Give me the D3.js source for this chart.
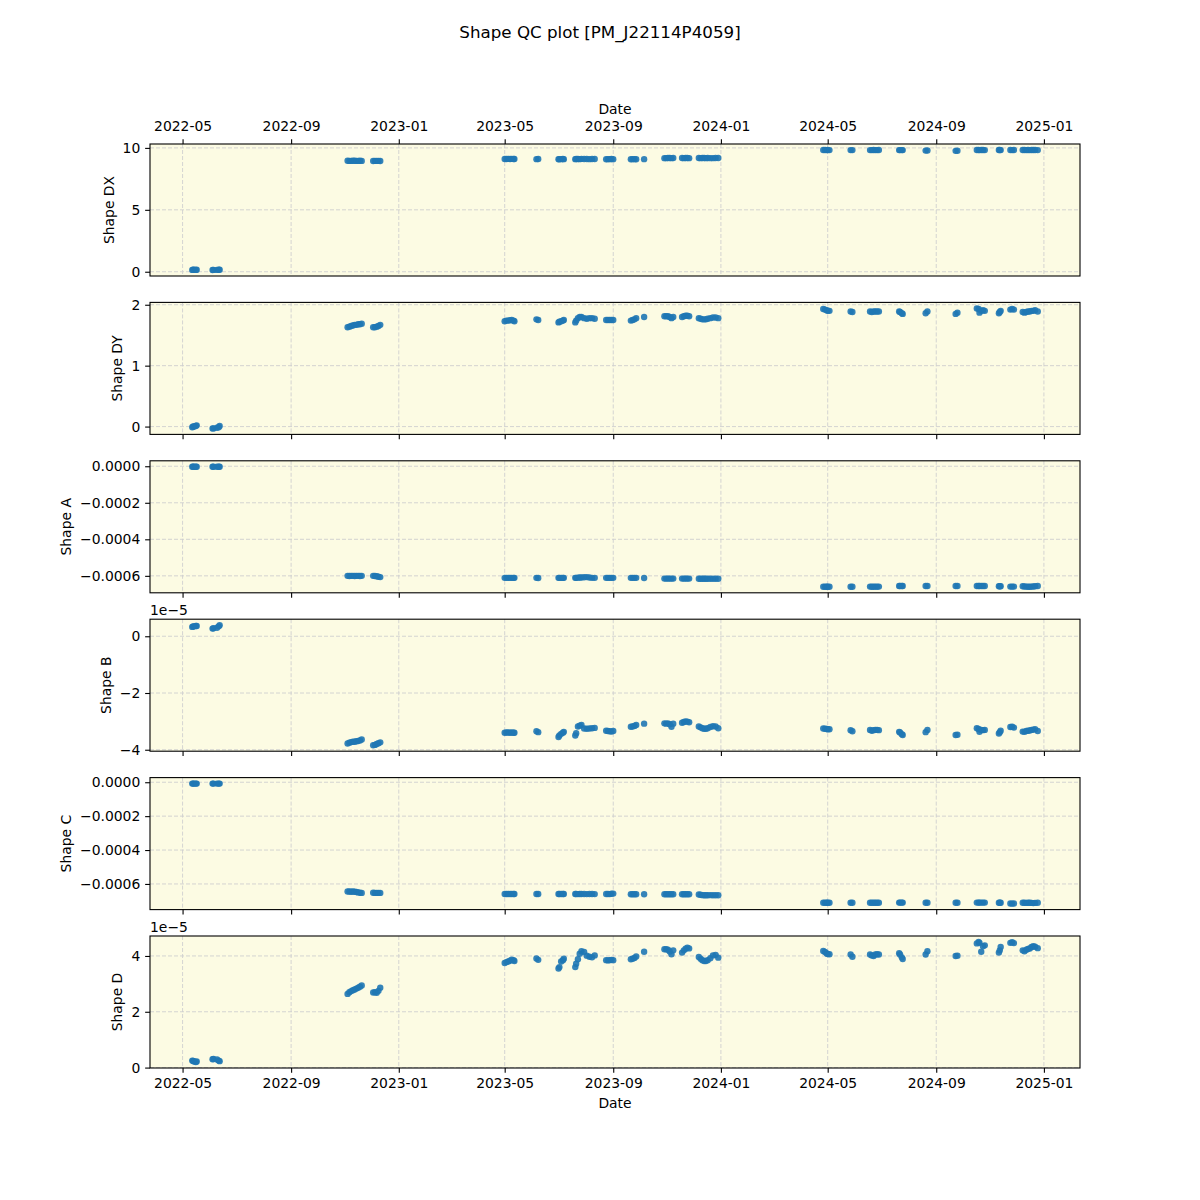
<!DOCTYPE html>
<html>
<head>
<meta charset="utf-8">
<script src="https://cdn.jsdelivr.net/npm/d3@7"></script>
<style>
body { margin: 0; background: #fff; }
text { font-family: "DejaVu Sans", sans-serif; }
</style>
</head>
<body>
<div id="chart"></div>
<script>
// Observation dates (grouped by observing run)
var dates = [
    "2022-05-12", "2022-05-13", "2022-05-14", "2022-05-16", "2022-05-17",
    "2022-06-04", "2022-06-05", "2022-06-09", "2022-06-11", "2022-06-12",
    "2022-11-04", "2022-11-06", "2022-11-08", "2022-11-10", "2022-11-12", "2022-11-14", "2022-11-16", "2022-11-18", "2022-11-20",
    "2022-12-03", "2022-12-05", "2022-12-07", "2022-12-09", "2022-12-11",
    "2023-05-01", "2023-05-03", "2023-05-05", "2023-05-07", "2023-05-09", "2023-05-11", "2023-05-12",
    "2023-06-06", "2023-06-08",
    "2023-07-01", "2023-07-02", "2023-07-04", "2023-07-06", "2023-07-07",
    "2023-07-20", "2023-07-21", "2023-07-23", "2023-07-25", "2023-07-27", "2023-07-30", "2023-08-02", "2023-08-05", "2023-08-08", "2023-08-11",
    "2023-08-24", "2023-08-26", "2023-08-28", "2023-08-30", "2023-09-01",
    "2023-09-21", "2023-09-23", "2023-09-25", "2023-09-27",
    "2023-10-06",
    "2023-10-29", "2023-10-31", "2023-11-02", "2023-11-04", "2023-11-06", "2023-11-08",
    "2023-11-18", "2023-11-20", "2023-11-22", "2023-11-24", "2023-11-26",
    "2023-12-07", "2023-12-09", "2023-12-11", "2023-12-13", "2023-12-15", "2023-12-17", "2023-12-20", "2023-12-23", "2023-12-26", "2023-12-29",
    "2024-04-26", "2024-04-28", "2024-04-30", "2024-05-01", "2024-05-03",
    "2024-05-27", "2024-05-29",
    "2024-06-18", "2024-06-20", "2024-06-22", "2024-06-24", "2024-06-26", "2024-06-28",
    "2024-07-21", "2024-07-22", "2024-07-24", "2024-07-25",
    "2024-08-20", "2024-08-22",
    "2024-09-23", "2024-09-25",
    "2024-10-17", "2024-10-19", "2024-10-20", "2024-10-22", "2024-10-24", "2024-10-26",
    "2024-11-11", "2024-11-12", "2024-11-13",
    "2024-11-24", "2024-11-26", "2024-11-28",
    "2024-12-08", "2024-12-10", "2024-12-12", "2024-12-14", "2024-12-16", "2024-12-18", "2024-12-20", "2024-12-22", "2024-12-25"
];

var shapeDX = [
    0.15, 0.16, 0.16, 0.15, 0.16,
    0.14, 0.15, 0.15, 0.16, 0.16,
    8.96, 8.95, 8.95, 8.96, 8.96, 8.95, 8.95, 8.96, 8.95,
    8.94, 8.95, 8.95, 8.95, 8.94,
    9.10, 9.10, 9.11, 9.10, 9.11, 9.10, 9.10,
    9.09, 9.10,
    9.08, 9.09, 9.09, 9.10, 9.09,
    9.09, 9.10, 9.10, 9.09, 9.11, 9.10, 9.10, 9.09, 9.10, 9.10,
    9.08, 9.09, 9.09, 9.10, 9.09,
    9.08, 9.09, 9.09, 9.08,
    9.09,
    9.17, 9.17, 9.18, 9.18, 9.17, 9.18,
    9.18, 9.17, 9.18, 9.18, 9.17,
    9.18, 9.17, 9.18, 9.18, 9.17, 9.18, 9.17, 9.17, 9.18, 9.18,
    9.83, 9.83, 9.82, 9.83, 9.82,
    9.82, 9.82,
    9.82, 9.82, 9.83, 9.82, 9.82, 9.83,
    9.82, 9.82, 9.82, 9.82,
    9.78, 9.79,
    9.76, 9.77,
    9.83, 9.83, 9.82, 9.83, 9.83, 9.82,
    9.83, 9.83, 9.82,
    9.83, 9.82, 9.83,
    9.83, 9.83, 9.82, 9.83, 9.82, 9.83, 9.83, 9.83, 9.82
];

var shapeDY = [
    -0.01, 0.00, 0.00, 0.01, 0.02,
    -0.03, -0.03, -0.02, -0.01, 0.01,
    1.63, 1.64, 1.65, 1.66, 1.67, 1.67, 1.68, 1.68, 1.69,
    1.63, 1.63, 1.64, 1.65, 1.67,
    1.73, 1.74, 1.74, 1.745, 1.75, 1.74, 1.73,
    1.76, 1.75,
    1.71, 1.72, 1.73, 1.74, 1.75,
    1.71, 1.74, 1.78, 1.80, 1.80, 1.78, 1.77, 1.78, 1.78, 1.77,
    1.75, 1.75, 1.75, 1.75, 1.75,
    1.74, 1.75, 1.76, 1.78,
    1.80,
    1.81, 1.81, 1.81, 1.80, 1.78, 1.80,
    1.80, 1.81, 1.82, 1.82, 1.81,
    1.78, 1.77, 1.76, 1.76, 1.76, 1.77, 1.78, 1.79, 1.79, 1.78,
    1.93, 1.92, 1.91, 1.90, 1.90,
    1.89, 1.88,
    1.89, 1.88, 1.89, 1.89, 1.89, 1.89,
    1.89, 1.88, 1.86, 1.85,
    1.86, 1.89,
    1.85, 1.87,
    1.94, 1.93, 1.87, 1.90, 1.91, 1.90,
    1.86, 1.88, 1.90,
    1.92, 1.93, 1.92,
    1.88, 1.87, 1.88, 1.89, 1.89, 1.90, 1.90, 1.91, 1.89
];

var shapeA = [
    -0.000003, -0.000003, -0.000003, -0.000003, -0.000003,
    -0.000003, -0.000003, -0.000003, -0.000003, -0.000003,
    -0.000600, -0.000601, -0.000600, -0.000600, -0.000601, -0.000600, -0.000600, -0.000601, -0.000600,
    -0.000600, -0.000601, -0.000602, -0.000605, -0.000607,
    -0.000611, -0.000611, -0.000611, -0.000611, -0.000611, -0.000611, -0.000611,
    -0.000611, -0.000612,
    -0.000611, -0.000611, -0.000611, -0.000611, -0.000611,
    -0.000611, -0.000611, -0.000610, -0.000609, -0.000609, -0.000608, -0.000607, -0.000609, -0.000611, -0.000611,
    -0.000611, -0.000611, -0.000611, -0.000611, -0.000611,
    -0.000611, -0.000611, -0.000611, -0.000611,
    -0.000612,
    -0.000615, -0.000615, -0.000615, -0.000615, -0.000615, -0.000615,
    -0.000615, -0.000615, -0.000615, -0.000615, -0.000615,
    -0.000616, -0.000616, -0.000616, -0.000616, -0.000616, -0.000616, -0.000616, -0.000616, -0.000616, -0.000616,
    -0.000660, -0.000660, -0.000660, -0.000660, -0.000660,
    -0.000660, -0.000660,
    -0.000659, -0.000660, -0.000660, -0.000659, -0.000660, -0.000659,
    -0.000656, -0.000656, -0.000656, -0.000656,
    -0.000656, -0.000656,
    -0.000656, -0.000656,
    -0.000656, -0.000656, -0.000656, -0.000656, -0.000656, -0.000656,
    -0.000657, -0.000657, -0.000657,
    -0.000659, -0.000659, -0.000659,
    -0.000657, -0.000658, -0.000659, -0.000660, -0.000660, -0.000659, -0.000658, -0.000657, -0.000656
];

// Shape B in units of 1e-5
var shapeB = [
    0.33, 0.35, 0.35, 0.36, 0.36,
    0.27, 0.28, 0.30, 0.35, 0.39,
    -3.78, -3.75, -3.73, -3.72, -3.72, -3.70, -3.69, -3.67, -3.64,
    -3.84, -3.83, -3.80, -3.77, -3.74,
    -3.40, -3.39, -3.39, -3.40, -3.39, -3.40, -3.40,
    -3.35, -3.38,
    -3.55, -3.50, -3.44, -3.40, -3.37,
    -3.50, -3.42, -3.18, -3.15, -3.13, -3.25, -3.26, -3.25, -3.24, -3.23,
    -3.33, -3.34, -3.35, -3.36, -3.34,
    -3.19, -3.18, -3.16, -3.13,
    -3.08,
    -3.07, -3.08, -3.07, -3.10, -3.19, -3.08,
    -3.05, -3.02, -3.00, -3.01, -3.03,
    -3.18, -3.21, -3.24, -3.26, -3.26, -3.24, -3.20, -3.17, -3.18, -3.24,
    -3.25, -3.26, -3.27, -3.28, -3.28,
    -3.31, -3.35,
    -3.30, -3.33, -3.31, -3.30, -3.30, -3.31,
    -3.37, -3.39, -3.45, -3.48,
    -3.38, -3.30,
    -3.48, -3.47,
    -3.24, -3.27, -3.37, -3.30, -3.31, -3.30,
    -3.43, -3.38, -3.33,
    -3.20, -3.19, -3.22,
    -3.36, -3.37, -3.34, -3.33, -3.32, -3.30, -3.29, -3.28, -3.34
];

var shapeC = [
    -0.000008, -0.000008, -0.000008, -0.000008, -0.000008,
    -0.000008, -0.000008, -0.000008, -0.000008, -0.000008,
    -0.000645, -0.000645, -0.000646, -0.000645, -0.000646, -0.000648, -0.000650, -0.000652, -0.000653,
    -0.000652, -0.000653, -0.000653, -0.000653, -0.000653,
    -0.000659, -0.000659, -0.000659, -0.000659, -0.000659, -0.000659, -0.000659,
    -0.000659, -0.000659,
    -0.000659, -0.000659, -0.000659, -0.000659, -0.000659,
    -0.000659, -0.000659, -0.000660, -0.000659, -0.000659, -0.000659, -0.000660, -0.000659, -0.000659, -0.000660,
    -0.000659, -0.000659, -0.000660, -0.000658, -0.000657,
    -0.000661, -0.000661, -0.000661, -0.000661,
    -0.000661,
    -0.000661, -0.000661, -0.000661, -0.000661, -0.000661, -0.000661,
    -0.000661, -0.000661, -0.000661, -0.000661, -0.000661,
    -0.000662, -0.000664, -0.000666, -0.000667, -0.000667, -0.000667, -0.000666, -0.000667, -0.000667, -0.000667,
    -0.000711, -0.000711, -0.000711, -0.000711, -0.000711,
    -0.000711, -0.000711,
    -0.000711, -0.000711, -0.000711, -0.000711, -0.000711, -0.000711,
    -0.000710, -0.000710, -0.000710, -0.000710,
    -0.000711, -0.000711,
    -0.000711, -0.000711,
    -0.000710, -0.000710, -0.000710, -0.000710, -0.000710, -0.000710,
    -0.000711, -0.000711, -0.000711,
    -0.000715, -0.000716, -0.000715,
    -0.000711, -0.000711, -0.000712, -0.000711, -0.000711, -0.000712, -0.000713, -0.000712, -0.000711
];

// Shape D in units of 1e-5
var shapeD = [
    0.25, 0.24, 0.22, 0.20, 0.22,
    0.30, 0.31, 0.29, 0.25, 0.23,
    2.64, 2.70, 2.74, 2.77, 2.80, 2.83, 2.86, 2.90, 2.94,
    2.69, 2.70, 2.68, 2.75, 2.86,
    3.75, 3.78, 3.80, 3.83, 3.87, 3.85, 3.82,
    3.91, 3.86,
    3.55, 3.60, 3.80, 3.85, 3.90,
    3.60, 3.72, 3.88, 4.08, 4.17, 4.14, 4.01, 3.97, 3.95, 4.02,
    3.85, 3.84, 3.85, 3.86, 3.85,
    3.88, 3.90, 3.93, 3.98,
    4.15,
    4.24, 4.24, 4.22, 4.16, 4.06, 4.20,
    4.12, 4.20, 4.26, 4.30, 4.27,
    3.96, 3.90, 3.85, 3.82, 3.82, 3.85, 3.92, 4.02, 4.04, 3.94,
    4.18, 4.14, 4.09, 4.07, 4.06,
    4.05, 3.97,
    4.05, 4.02, 4.00, 4.05, 4.06, 4.05,
    4.10, 4.05, 3.95, 3.89,
    4.05, 4.17,
    4.00, 4.01,
    4.45, 4.50, 4.47, 4.15, 4.35, 4.38,
    4.12, 4.20, 4.32,
    4.47, 4.49, 4.46,
    4.20, 4.17, 4.22, 4.25, 4.27, 4.32, 4.35, 4.33, 4.28
];

var chartTitle = "Shape QC plot [PM_J22114P4059]";
var panelLabels = ["Shape DX", "Shape DY", "Shape A", "Shape B", "Shape C", "Shape D"];
var panelTicks = [[0, 5, 10], [0, 1, 2], [0, -0.0002, -0.0004, -0.0006],
    [0, -2, -4], [0, -0.0002, -0.0004, -0.0006], [0, 2, 4]];

// SVG area
var svgWidth = 1200;
var svgHeight = 1200;
var chartMargin = { top: 144, left: 150 };
var plotWidth = 930;
var panelHeight = 132;
var panelStep = 158.4;
var fontSize = 13.9;
var tickLen = 4.86;

var minus = s => s.replace(/-/g, "\u2212");
var fmtInt = d => minus(d3.format("d")(d));
var fmt4 = d => minus(d3.format(".4f")(d));

var panels = [
    { label: panelLabels[0], values: shapeDX, ticks: panelTicks[0], fmt: fmtInt, offset: null },
    { label: panelLabels[1], values: shapeDY, ticks: panelTicks[1], fmt: fmtInt, offset: null },
    { label: panelLabels[2], values: shapeA, ticks: panelTicks[2], fmt: fmt4, offset: null },
    { label: panelLabels[3], values: shapeB, ticks: panelTicks[3], fmt: fmtInt, offset: "1e\u22125" },
    { label: panelLabels[4], values: shapeC, ticks: panelTicks[4], fmt: fmt4, offset: null },
    { label: panelLabels[5], values: shapeD, ticks: panelTicks[5], fmt: fmtInt, offset: "1e\u22125" }
];

var parseDate = d3.utcParse("%Y-%m-%d");
var dateValues = dates.map(parseDate);

// matplotlib-like 5% margins
function padded(extent) {
    var span = extent[1] - extent[0];
    return [extent[0] - span * 0.05, extent[1] + span * 0.05];
}

var xExtent = d3.extent(dateValues);
var xPad = (xExtent[1] - xExtent[0]) * 0.05;
var xScale = d3.scaleUtc()
    .domain([new Date(+xExtent[0] - xPad), new Date(+xExtent[1] + xPad)])
    .range([0, plotWidth]);
var xTicks = xScale.ticks(d3.utcMonth.every(4));

var svg = d3.select("#chart")
    .append("svg")
    .attr("width", svgWidth)
    .attr("height", svgHeight);

svg.append("text")
    .attr("x", svgWidth / 2)
    .attr("y", 38)
    .attr("text-anchor", "middle")
    .style("font-size", "16.7px")
    .text(chartTitle);

panels.forEach(function (p, i) {
    var top = chartMargin.top + i * panelStep;
    var g = svg.append("g")
        .attr("transform", `translate(${chartMargin.left}, ${top})`);

    var yScale = d3.scaleLinear()
        .domain(padded(d3.extent(p.values)))
        .range([panelHeight, 0]);

    g.append("rect")
        .attr("width", plotWidth)
        .attr("height", panelHeight)
        .attr("fill", "#fcfbe3");

    // grid
    g.append("g").selectAll("line.vx")
        .data(xTicks)
        .enter()
        .append("line")
        .attr("x1", d => xScale(d))
        .attr("x2", d => xScale(d))
        .attr("y1", 0)
        .attr("y2", panelHeight);
    g.append("g").selectAll("line.hy")
        .data(p.ticks)
        .enter()
        .append("line")
        .attr("x1", 0)
        .attr("x2", plotWidth)
        .attr("y1", d => yScale(d))
        .attr("y2", d => yScale(d));
    g.selectAll("g line")
        .attr("stroke", "#cfcfcf")
        .attr("stroke-width", 0.9)
        .attr("stroke-dasharray", "4,2");

    // points
    g.append("g")
        .selectAll("circle")
        .data(p.values)
        .enter()
        .append("circle")
        .attr("cx", (d, j) => xScale(dateValues[j]))
        .attr("cy", d => yScale(d))
        .attr("r", 3.2)
        .style("fill", "#1f77b4")
        .attr("opacity", 0.9);

    g.append("rect")
        .attr("width", plotWidth)
        .attr("height", panelHeight)
        .attr("fill", "none")
        .attr("stroke", "black")
        .attr("stroke-width", 1.1);

    // y axis
    var yAxis = g.append("g")
        .call(d3.axisLeft(yScale).tickValues(p.ticks).tickFormat(p.fmt)
            .tickSizeInner(tickLen).tickSizeOuter(0).tickPadding(4.86));
    yAxis.select(".domain").remove();
    yAxis.selectAll("text").style("font-size", fontSize + "px").attr("font-family", "DejaVu Sans");
    yAxis.selectAll("line").attr("stroke-width", 1.1);

    var box = yAxis.node().getBBox();
    g.append("text")
        .attr("transform", `translate(${box.x - 9}, ${panelHeight / 2}) rotate(-90)`)
        .attr("text-anchor", "middle")
        .style("font-size", fontSize + "px")
        .text(p.label);

    if (p.offset) {
        g.append("text")
            .attr("x", 0)
            .attr("y", -4)
            .style("font-size", fontSize + "px")
            .text(p.offset);
    }

    // x axis: top on first panel, bottom elsewhere, labels only on last
    var xAxis;
    if (i === 0) {
        xAxis = g.append("g")
            .call(d3.axisTop(xScale).tickValues(xTicks).tickFormat(d3.utcFormat("%Y-%m"))
                .tickSizeInner(tickLen).tickSizeOuter(0).tickPadding(4.86));
        xAxis.selectAll("text").attr("dy", "-0.24em");
        g.append("text")
            .attr("x", plotWidth / 2)
            .attr("y", -30)
            .attr("text-anchor", "middle")
            .style("font-size", fontSize + "px")
            .text("Date");
    } else {
        xAxis = g.append("g")
            .attr("transform", `translate(0, ${panelHeight})`)
            .call(d3.axisBottom(xScale).tickValues(xTicks)
                .tickFormat(i === panels.length - 1 ? d3.utcFormat("%Y-%m") : "")
                .tickSizeInner(tickLen).tickSizeOuter(0).tickPadding(4.86));
        if (i === panels.length - 1) {
            g.append("text")
                .attr("x", plotWidth / 2)
                .attr("y", panelHeight + 40)
                .attr("text-anchor", "middle")
                .style("font-size", fontSize + "px")
                .text("Date");
        }
    }
    xAxis.select(".domain").remove();
    xAxis.selectAll("text").style("font-size", fontSize + "px").attr("font-family", "DejaVu Sans");
    xAxis.selectAll("line").attr("stroke-width", 1.1);
});
</script>
</body>
</html>
